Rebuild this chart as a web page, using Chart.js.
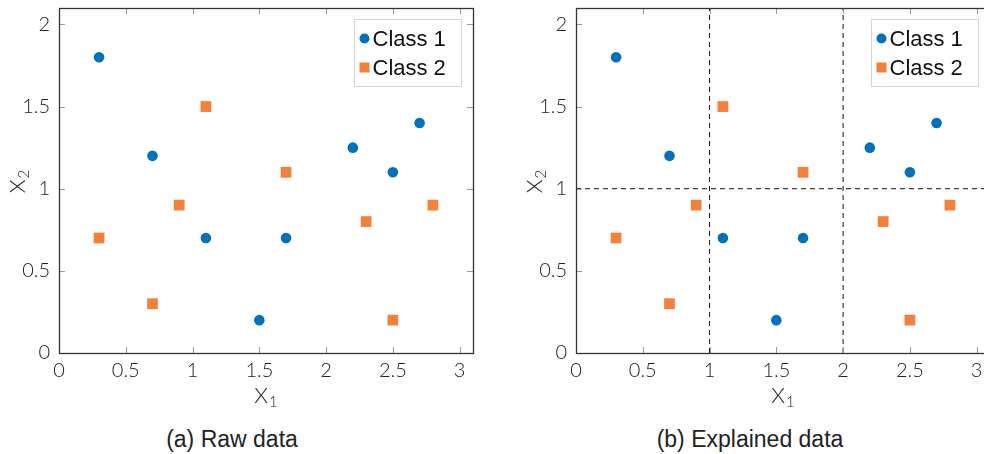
<!DOCTYPE html>
<html>
<head>
<meta charset="utf-8">
<script src="https://cdn.jsdelivr.net/npm/chart.js@4.4.1/dist/chart.umd.min.js"></script>
<style>
  html, body { margin: 0; padding: 0; background: #fff; }
  body { width: 984px; height: 454px; position: relative; overflow: hidden; }
  .panel { position: absolute; top: 0; width: 490px; height: 415px; }
  .caption {
    position: absolute; top: 425px; width: 490px; text-align: center; line-height: 28px;
    font-family: "Liberation Sans", Arial, sans-serif; font-size: 23px; color: #222;
  }
</style>
</head>
<body>
<div class="panel" style="left:0"><canvas id="rawChart"></canvas></div>
<div class="panel" style="left:517px"><canvas id="explainedChart"></canvas></div>
<div class="caption" style="left:-13px">(a) Raw data</div>
<div class="caption" style="left:505px">(b) Explained data</div>
<script>
const CLASS1_X = [0.3, 0.7, 1.1, 1.5, 1.7, 2.2, 2.5, 2.7];
const CLASS1_Y = [1.8, 1.2, 0.7, 0.2, 0.7, 1.25, 1.1, 1.4];
const CLASS2_X = [0.3, 0.7, 0.9, 1.1, 1.7, 2.3, 2.5, 2.8];
const CLASS2_Y = [0.7, 0.3, 0.9, 1.5, 1.1, 0.8, 0.2, 0.9];
const X_TICKS = [0, 0.5, 1, 1.5, 2, 2.5, 3];
const Y_TICKS = [0, 0.5, 1, 1.5, 2];
const SPLIT_X = [1, 2]; // vertical dashed splits
const SPLIT_Y = [1]; // horizontal dashed split
const X_MAX = 3.1;
const Y_MAX = 2.1;

const BLUE = "#0072bd";
const ORANGE = "#f3813b";
const TEXT_COLOR = "#222";
const TICK_FONT = { family: "Lato", size: 20, weight: 300 };

function toPoints(xs, ys) {
  return xs.map((x, i) => ({ x: x, y: ys[i] }));
}

// pgfplots style frame with inward ticks on all sides
const framePlugin = {
  id: "frame",
  afterDraw(chart) {
    const { ctx, chartArea } = chart;
    const { left, right, top, bottom } = chartArea;
    const xs = chart.scales.x;
    const ys = chart.scales.y;
    ctx.save();
    ctx.strokeStyle = "#9a9a9a";
    ctx.lineWidth = 1;
    ctx.beginPath();
    X_TICKS.forEach((v) => {
      const px = Math.round(xs.getPixelForValue(v)) + 0.5;
      ctx.moveTo(px, bottom);
      ctx.lineTo(px, bottom - 6);
      ctx.moveTo(px, top);
      ctx.lineTo(px, top + 6);
    });
    Y_TICKS.forEach((v) => {
      const py = Math.round(ys.getPixelForValue(v)) + 0.5;
      ctx.moveTo(left, py);
      ctx.lineTo(left + 6, py);
      ctx.moveTo(right, py);
      ctx.lineTo(right - 6, py);
    });
    ctx.stroke();
    ctx.strokeStyle = "#333";
    ctx.lineWidth = 1.3;
    ctx.strokeRect(Math.round(left) + 0.5, Math.round(top) + 0.5,
      Math.round(right - left), Math.round(bottom - top));
    ctx.restore();
  },
};

// "X" with a subscript index, drawn at baseline (0, 0) centred on 0
function drawSubscripted(ctx, main, sub) {
  ctx.font = '300 22px "Lato"';
  const wMain = ctx.measureText(main).width;
  ctx.font = '300 15px "Lato"';
  const wSub = ctx.measureText(sub).width;
  const x0 = -(wMain + wSub + 1) / 2;
  ctx.font = '300 22px "Lato"';
  ctx.fillText(main, x0, 0);
  ctx.font = '300 15px "Lato"';
  ctx.fillText(sub, x0 + wMain + 1, 4);
}

const axisTitlePlugin = {
  id: "axisTitles",
  afterDraw(chart) {
    const { ctx, chartArea } = chart;
    ctx.save();
    ctx.fillStyle = TEXT_COLOR;
    ctx.textBaseline = "alphabetic";
    ctx.textAlign = "left";
    ctx.save();
    ctx.translate((chartArea.left + chartArea.right) / 2, chartArea.bottom + 50);
    drawSubscripted(ctx, "X", "1");
    ctx.restore();
    ctx.save();
    ctx.translate(25, (chartArea.top + chartArea.bottom) / 2 + 1);
    ctx.rotate(-Math.PI / 2);
    drawSubscripted(ctx, "X", "2");
    ctx.restore();
    ctx.restore();
  },
};

// legend drawn inside the plot area, top right
const boxLegendPlugin = {
  id: "boxLegend",
  afterDraw(chart) {
    const { ctx, chartArea } = chart;
    const items = chart.data.datasets.filter((d) => d.label);
    const w = 107, rowH = 29, h = 67;
    const bx = Math.round(chartArea.right - 12 - w) + 0.5;
    const by = Math.round(chartArea.top + 11) + 0.5;
    ctx.save();
    ctx.fillStyle = "#fff";
    ctx.fillRect(bx, by, w, h);
    ctx.strokeStyle = "#d6d6d6";
    ctx.lineWidth = 1;
    ctx.strokeRect(bx, by, w, h);
    ctx.font = '22px "Liberation Sans", Arial, sans-serif';
    ctx.textBaseline = "middle";
    items.forEach((d, i) => {
      const cy = by + 19 + i * rowH;
      const mx = bx + 10;
      ctx.fillStyle = d.backgroundColor;
      if (d.pointStyle === "rect") {
        ctx.fillRect(mx - 5, cy - 5, 10, 10);
      } else {
        ctx.beginPath();
        ctx.arc(mx, cy, 5, 0, Math.PI * 2);
        ctx.fill();
      }
      ctx.fillStyle = "#111";
      ctx.fillText(d.label, bx + 18, cy + 1);
    });
    ctx.restore();
  },
};

function classDatasets() {
  return [
    {
      label: "Class 1",
      data: toPoints(CLASS1_X, CLASS1_Y),
      pointStyle: "circle",
      pointRadius: 5.3,
      backgroundColor: BLUE,
      borderColor: BLUE,
      borderWidth: 0,
      order: 1,
    },
    {
      label: "Class 2",
      data: toPoints(CLASS2_X, CLASS2_Y),
      pointStyle: "rect",
      pointRadius: 7.6,
      backgroundColor: ORANGE,
      borderColor: ORANGE,
      borderWidth: 0,
      order: 1,
    },
  ];
}

function splitDatasets() {
  const sets = [];
  SPLIT_X.forEach((v) => {
    sets.push([{ x: v, y: 0 }, { x: v, y: Y_MAX }]);
  });
  SPLIT_Y.forEach((v) => {
    sets.push([{ x: 0, y: v }, { x: X_MAX, y: v }]);
  });
  return sets.map((data) => ({
    data: data,
    showLine: true,
    pointRadius: 0,
    borderColor: "#111",
    borderWidth: 1,
    borderDash: [5, 4],
    order: 2,
  }));
}

function renderPanel(canvasElem, datasets) {
  return new Chart(canvasElem, {
    type: "scatter",
    data: { datasets: datasets },
    options: {
      responsive: true,
      maintainAspectRatio: false,
      animation: false,
      layout: { padding: { top: 8, right: 17, left: 0, bottom: 0 } },
      scales: {
        x: {
          type: "linear",
          min: 0,
          max: X_MAX,
          afterBuildTicks: (scale) => {
            scale.ticks = X_TICKS.map((v) => ({ value: v }));
          },
          afterFit: (scale) => {
            scale.height = 62;
            scale.paddingLeft = 0;
            scale.paddingRight = 0;
          },
          grid: { display: false, drawTicks: false },
          border: { display: false },
          ticks: {
            color: TEXT_COLOR,
            font: TICK_FONT,
            padding: 6,
            maxRotation: 0,
            callback: (v) => String(v),
          },
        },
        y: {
          type: "linear",
          min: 0,
          max: Y_MAX,
          afterBuildTicks: (scale) => {
            scale.ticks = Y_TICKS.map((v) => ({ value: v }));
          },
          afterFit: (scale) => {
            scale.width = 59;
            scale.paddingTop = 0;
            scale.paddingBottom = 0;
          },
          grid: { display: false, drawTicks: false },
          border: { display: false },
          ticks: {
            color: TEXT_COLOR,
            font: TICK_FONT,
            padding: 9,
            callback: (v) => String(v),
          },
        },
      },
      plugins: {
        legend: { display: false },
        tooltip: { enabled: false },
      },
    },
    plugins: [framePlugin, axisTitlePlugin, boxLegendPlugin],
  });
}

renderPanel(document.getElementById("rawChart"), classDatasets());
renderPanel(
  document.getElementById("explainedChart"),
  classDatasets().concat(splitDatasets())
);
</script>
</body>
</html>
